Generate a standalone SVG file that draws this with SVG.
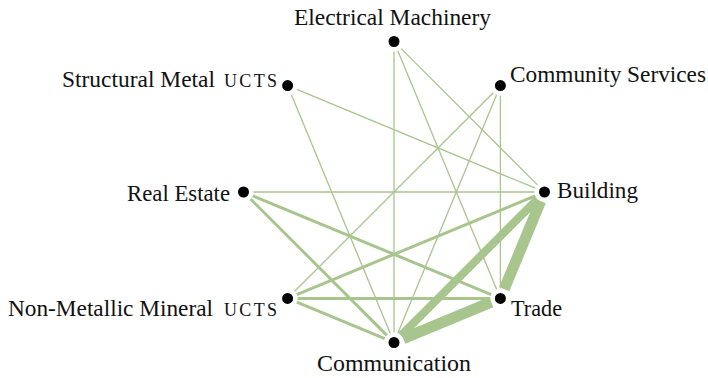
<svg xmlns="http://www.w3.org/2000/svg" width="708" height="378" viewBox="0 0 708 378">
<style>
.e{stroke:#a8c58e;stroke-linecap:butt;fill:none}
.t1{stroke-width:1.3}
.t2{stroke-width:3}
.t3{stroke-width:8}
.t4{stroke-width:11}
.n{fill:#000;stroke:#fff;stroke-width:2}
.lbl{font-family:'Liberation Serif','DejaVu Serif','Times New Roman',serif;font-size:23px;fill:#111}
.sc{font-size:18px}
</style>
<rect width="708" height="378" fill="#fff"/>
<g id="connectors">
<line class="e t1" x1="394" y1="51.5" x2="394" y2="332.5"/>
<line class="e t1" x1="397.8" y1="50.7" x2="496.6" y2="289.2"/>
<line class="e t1" x1="401.1" y1="48.6" x2="537.4" y2="184.9"/>
<line class="e t1" x1="296.8" y1="89.4" x2="535.3" y2="188.2"/>
<line class="e t1" x1="291.4" y1="94.8" x2="390.2" y2="333.3"/>
<line class="e t1" x1="493.3" y1="92.7" x2="294.7" y2="291.3"/>
<line class="e t1" x1="496.6" y1="94.8" x2="397.8" y2="333.3"/>
<line class="e t1" x1="500.4" y1="95.6" x2="500.4" y2="288.4"/>
<line class="e t1" x1="253.5" y1="192" x2="534.5" y2="192"/>
<line class="e t2" x1="252.7" y1="195.8" x2="491.2" y2="294.6"/>
<line class="e t2" x1="250.6" y1="199.1" x2="386.9" y2="335.4"/>
<line class="e t2" x1="296.8" y1="294.6" x2="535.3" y2="195.8"/>
<line class="e t2" x1="297.6" y1="298.4" x2="490.4" y2="298.4"/>
<line class="e t2" x1="296.8" y1="302.2" x2="384.8" y2="338.7"/>
<line class="e t3" x1="537.4" y1="199.1" x2="401.1" y2="335.4"/>
<line class="e t4" x1="540.7" y1="201.2" x2="504.2" y2="289.2"/>
<line class="e t4" x1="491.2" y1="302.2" x2="403.2" y2="338.7"/>
</g>
<g id="electrical-machinery"><circle class="n" cx="394" cy="41.5" r="6.5"/><text class="lbl" x="294" y="25" textLength="197" lengthAdjust="spacingAndGlyphs">Electrical Machinery</text></g>
<g id="community-services"><circle class="n" cx="500.4" cy="85.6" r="6.5"/><text class="lbl" x="510" y="82" textLength="196" lengthAdjust="spacingAndGlyphs">Community Services</text></g>
<g id="building"><circle class="n" cx="544.5" cy="192" r="6.5"/><text class="lbl" x="557" y="198" textLength="81" lengthAdjust="spacingAndGlyphs">Building</text></g>
<g id="trade"><circle class="n" cx="500.4" cy="298.4" r="6.5"/><text class="lbl" x="511" y="316" textLength="51" lengthAdjust="spacingAndGlyphs">Trade</text></g>
<g id="communication"><circle class="n" cx="394" cy="342.5" r="6.5"/><text class="lbl" x="317" y="371" textLength="154" lengthAdjust="spacingAndGlyphs">Communication</text></g>
<g id="non-metallic-mineral"><circle class="n" cx="287.6" cy="298.4" r="6.5"/><text class="lbl" x="8" y="316"><tspan textLength="205" lengthAdjust="spacingAndGlyphs">Non-Metallic Mineral</tspan> <tspan class="sc" x="224" textLength="53" lengthAdjust="spacing">UCTS</tspan></text></g>
<g id="real-estate"><circle class="n" cx="243.5" cy="192" r="6.5"/><text class="lbl" x="127" y="201" textLength="103" lengthAdjust="spacingAndGlyphs">Real Estate</text></g>
<g id="structural-metal"><circle class="n" cx="287.6" cy="85.6" r="6.5"/><text class="lbl" x="62" y="87"><tspan textLength="153" lengthAdjust="spacingAndGlyphs">Structural Metal</tspan> <tspan class="sc" x="224" textLength="53" lengthAdjust="spacing">UCTS</tspan></text></g>
</svg>
